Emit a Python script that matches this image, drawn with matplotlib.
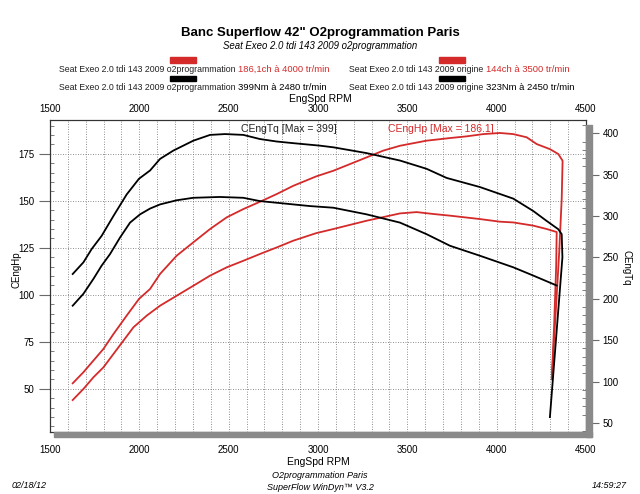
import matplotlib.pyplot as plt
from matplotlib.patches import Rectangle
from matplotlib.ticker import MultipleLocator

W, H = 640, 494
RED = '#d42a2a'
GRID = '#6a6a6a'
SHADOW = '#8a8a8a'

# puissance o2programmation (ch)
hp_o2_rpm = [1627, 1687, 1743, 1799, 1855, 1929, 1998, 2060, 2116, 2209, 2302, 2396, 2489,
             2582, 2675, 2769, 2862, 2990, 3086, 3272, 3365, 3459, 3608, 3739, 3832, 3925,
             4018, 4093, 4168, 4224, 4298, 4345, 4369, 4364, 4350, 4330, 4308]
hp_o2 = [52.9, 58.8, 65.0, 71.2, 79.1, 88.9, 97.8, 103.1, 111.1, 120.8, 127.9, 135.0, 141.2,
         145.6, 149.5, 153.6, 158.0, 163.0, 166.0, 173.1, 176.7, 179.3, 182.0, 183.4, 184.3, 185.5,
         186.1, 185.5, 183.8, 180.2, 177.5, 174.9, 171.3, 151.0, 122.6, 90.0, 55.0]

# puissance origine (ch)
hp_or_rpm = [1627, 1687, 1743, 1799, 1855, 1911, 1967, 2041, 2116, 2209, 2302, 2396, 2489,
             2582, 2675, 2769, 2862, 2990, 3086, 3272, 3459, 3552, 3645, 3739, 3906, 4018,
             4093, 4205, 4280, 4336, 4333, 4322, 4310]
hp_or = [44.0, 49.9, 56.1, 61.4, 68.5, 75.6, 82.7, 88.9, 94.2, 99.5, 104.8, 110.2, 114.6,
         118.1, 121.7, 125.2, 128.8, 132.8, 135.0, 139.4, 143.3, 144.0, 143.0, 142.1, 140.3, 138.9,
         138.5, 136.8, 135.0, 133.4, 115.0, 85.0, 58.0]

# couple o2programmation (Nm)
tq_o2_rpm = [1627, 1687, 1733, 1789, 1855, 1929, 1998, 2060, 2116, 2190, 2302, 2396, 2480,
             2582, 2675, 2769, 2862, 3011, 3086, 3272, 3459, 3608, 3720, 3906, 4093, 4205,
             4280, 4345, 4364, 4368, 4298]
tq_o2 = [229.9, 244, 260, 276, 300, 326, 345, 355, 369, 379, 391, 398, 399,
         398, 393, 390, 388, 385, 383, 376, 367, 357, 346, 335, 321, 306,
         294, 284, 278, 250, 57]

# couple origine (Nm)
tq_or_rpm = [1627, 1687, 1743, 1789, 1836, 1892, 1948, 2004, 2060, 2116, 2209, 2302, 2450,
             2582, 2675, 2769, 2862, 2955, 3086, 3272, 3459, 3608, 3739, 3906, 4093, 4205, 4336]
tq_or = [191.6, 206, 224, 240, 254, 274, 292, 302, 309, 314, 319, 322, 323,
         322, 318, 316, 314, 312, 310, 302, 292, 278, 264, 252, 238, 228, 216]

rpm_ticks = [1500, 2000, 2500, 3000, 3500, 4000, 4500]
hp_ticks = [50, 75, 100, 125, 150, 175]
tq_ticks = [50, 100, 150, 200, 250, 300, 350, 400]

plt.rcParams['font.family'] = ['Liberation Sans', 'DejaVu Sans']

fig = plt.figure(figsize=(W / 100, H / 100), dpi=100)

def fx(px):
    return px / W

def fy(py):
    return 1 - py / H

# zone du graphe en pixels : gauche 50, droite 586, haut 120, bas 432
ax = fig.add_axes([fx(50), fy(432), fx(586) - fx(50), fy(120) - fy(432)])
ax2 = ax.twinx()

ax.set_xlim(1500, 4500)
ax.set_ylim(27, 193)
ax2.set_ylim(39, 416)

ax.set_xticks(rpm_ticks)
ax.xaxis.set_minor_locator(MultipleLocator(100))
ax.set_yticks(hp_ticks)
ax.yaxis.set_minor_locator(MultipleLocator(5))
ax2.set_yticks(tq_ticks)
ax2.yaxis.set_minor_locator(MultipleLocator(10))

ax.grid(True, which='both', axis='x', color=GRID, lw=0.6, ls=(0, (1, 2)))
ax.grid(True, which='major', axis='y', color=GRID, lw=0.6, ls=(0, (1, 2)))

ax.tick_params(axis='x', which='both', length=0, labelsize=7, pad=9)
secx = ax.secondary_xaxis('top')
secx.set_xticks(rpm_ticks)
secx.tick_params(length=0, labelsize=7, pad=4)
secx.spines['top'].set_visible(False)

ax.tick_params(axis='y', which='major', direction='out', length=8, color=GRID, labelsize=7, pad=3)
ax.tick_params(axis='y', which='minor', direction='in', length=3, color=GRID)
ax2.tick_params(axis='y', which='major', direction='out', length=9, color=GRID, labelsize=7, pad=3)
ax2.tick_params(axis='y', which='minor', direction='in', length=3, color=GRID)

for a in (ax, ax2):
    for s in a.spines.values():
        s.set_linewidth(0.8)
        s.set_color('#333333')

ax.plot(hp_o2_rpm, hp_o2, color=RED, lw=1.3)
ax.plot(hp_or_rpm, hp_or, color=RED, lw=1.3)
ax2.plot(tq_o2_rpm, tq_o2, color='black', lw=1.3)
ax2.plot(tq_or_rpm, tq_or, color='black', lw=1.3)

ax.text(0.445, 0.972, 'CEngTq [Max = 399]', transform=ax.transAxes, fontsize=7.5,
        color='#222222', ha='center', va='center')
ax.text(0.73, 0.972, 'CEngHp [Max = 186.1]', transform=ax.transAxes, fontsize=7.5,
        color=RED, ha='center', va='center')

fig.text(fx(16), fy(270), 'CEngHp', fontsize=7, rotation=90, ha='center', va='center')
fig.text(fx(627), fy(268), 'CEngTq', fontsize=7, rotation=270, ha='center', va='center')
ax.set_xlabel('EngSpd RPM', fontsize=7.5, labelpad=2)
fig.text(fx(320), fy(99), 'EngSpd RPM', fontsize=7.5, ha='center', va='center')

# ombre grise
fig.patches.append(Rectangle((fx(586), fy(437)), fx(6), fy(125) - fy(437), transform=fig.transFigure,
                             color=SHADOW, zorder=0))
fig.patches.append(Rectangle((fx(54), fy(437)), fx(538), fy(432) - fy(437), transform=fig.transFigure,
                             color=SHADOW, zorder=0))

# titres
fig.text(fx(320), fy(33), 'Banc Superflow 42" O2programmation Paris', fontsize=9.5,
         fontweight='bold', ha='center', va='center')
fig.text(fx(320), fy(46), 'Seat Exeo 2.0 tdi 143 2009 o2programmation', fontsize=6.9,
         style='italic', ha='center', va='center')

# legende
fig.canvas.draw()
rend = fig.canvas.get_renderer()
rows = [
    (69, 59, 'Seat Exeo 2.0 tdi 143 2009 o2programmation', '186,1ch à 4000 tr/min', RED),
    (88, 59, 'Seat Exeo 2.0 tdi 143 2009 o2programmation', '399Nm à 2480 tr/min', 'black'),
    (69, 349, 'Seat Exeo 2.0 tdi 143 2009 origine', '144ch à 3500 tr/min', RED),
    (88, 349, 'Seat Exeo 2.0 tdi 143 2009 origine', '323Nm à 2450 tr/min', 'black'),
]
for py, px, lab, val, col in rows:
    t = fig.text(fx(px), fy(py), lab, fontsize=6.3, color='#222222', ha='left', va='center')
    bb = t.get_window_extent(rend)
    fig.text(bb.x1 / W + fx(3), fy(py), val, fontsize=6.8, color=col, ha='left', va='center')

for px in (170, 439):
    fig.patches.append(Rectangle((fx(px), fy(63)), fx(26), fy(57) - fy(63), transform=fig.transFigure,
                                 color=RED))
    fig.patches.append(Rectangle((fx(px), fy(81)), fx(26), fy(76) - fy(81), transform=fig.transFigure,
                                 color='black'))

# pied de page
fig.text(fx(320), fy(475), 'O2programmation Paris', fontsize=6.5, style='italic', ha='center', va='center')
fig.text(fx(320), fy(487), 'SuperFlow WinDyn™ V3.2', fontsize=6.5, style='italic', ha='center', va='center')
fig.text(fx(12), fy(485), '02/18/12', fontsize=6.5, style='italic', ha='left', va='center')
fig.text(fx(627), fy(485), '14:59:27', fontsize=6.5, style='italic', ha='right', va='center')

fig.savefig('out.png', dpi=100)
